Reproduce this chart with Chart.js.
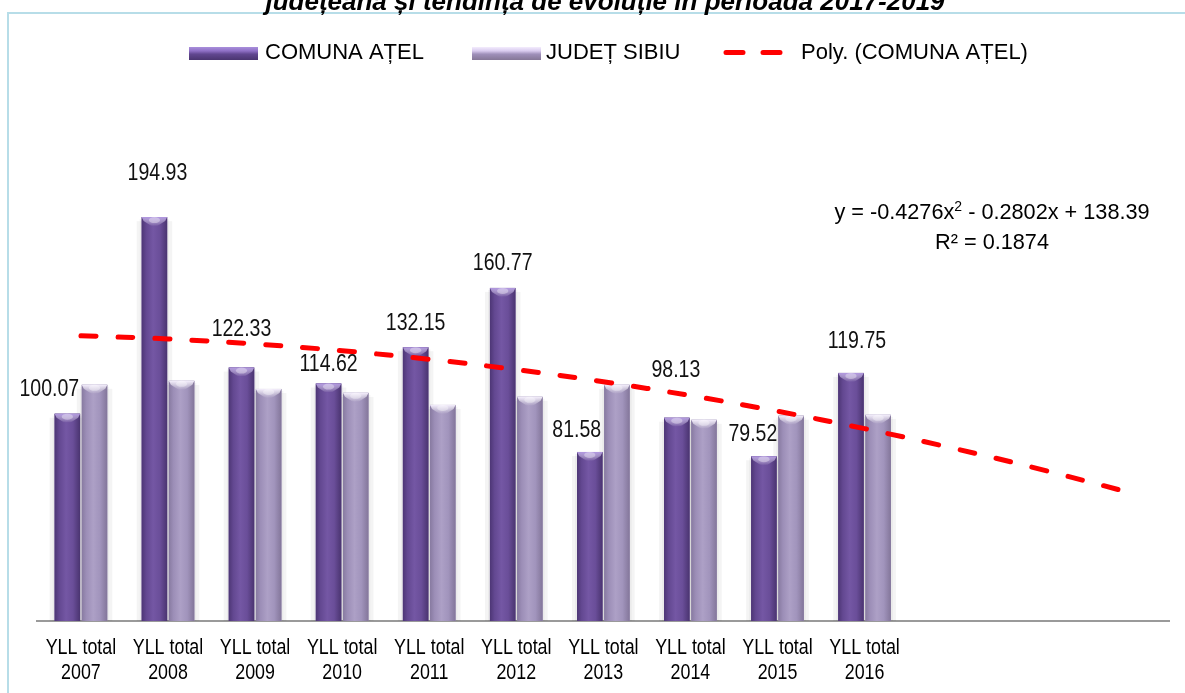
<!DOCTYPE html>
<html>
<head>
<meta charset="utf-8">
<script src="https://cdn.jsdelivr.net/npm/chart.js@4.4.1/dist/chart.umd.min.js"></script>
<style>
  html, body { margin: 0; padding: 0; background: #ffffff; }
  canvas { display: block; }
</style>
</head>
<body>
<canvas id="yll" width="1185" height="693"></canvas>
<script>
// ---- data ----
const categories = [
  ["YLL total", "2007"], ["YLL total", "2008"], ["YLL total", "2009"], ["YLL total", "2010"],
  ["YLL total", "2011"], ["YLL total", "2012"], ["YLL total", "2013"], ["YLL total", "2014"],
  ["YLL total", "2015"], ["YLL total", "2016"], "", "", ""
];
const comunaAtel = [100.07, 194.93, 122.33, 114.62, 132.15, 160.77, 81.58, 98.13, 79.52, 119.75, null, null, null];
const judetSibiu = [114.0, 115.9, 112.0, 110.1, 104.3, 108.2, 114.0, 97.1, 99.1, 99.5, null, null, null];
// polynomial trend (order 2) of COMUNA AȚEL, forecast 3 periods forward
const polyTrend = [137.68, 136.12, 133.70, 130.43, 126.30, 121.32, 115.48, 108.78, 101.23, 92.83, 83.57, 73.45, 62.48];
const seriesNames = ["COMUNA AȚEL", "JUDEȚ SIBIU", "Poly. (COMUNA AȚEL)"];
const titleLine = "județeană și tendința de evoluție în perioada 2017-2019";
const equationParts = ["y = -0.4276x", "2", " - 0.2802x + 138.39"];
const rSquared = "R² = 0.1874";

// ---- look ----
const SANS = '"Liberation Sans", Arial, sans-serif';
const CONDENSE = 0.83;   // horizontal squeeze for the narrow-looking labels
// value label placement relative to the top of each COMUNA AȚEL bar
const labelNudge = [[-18, -24], [3, -44], [0, -38], [0, -19], [0, -24], [0, -24], [-13, -21], [-1, -47], [-11, -22], [6, -31]];

const barLooks = [
  { stops: ['#4d3675', '#634891', '#7457a4', '#6a4e99', '#4a3470'], cap: '#b096e0' },
  { stops: ['#877aa0', '#9c8eb7', '#ada0c6', '#a194bc', '#83769a'], cap: '#f4eefc' }
];

function barGeom(chart, dsIndex) {
  const meta = chart.getDatasetMeta(dsIndex);
  const vals = chart.data.datasets[dsIndex].data;
  return meta.data
    .map((el, i) => (vals[i] == null ? null : el.getProps(['x', 'y', 'width', 'base'], true)))
    .filter(p => p);
}

// soft halo behind every bar
const barHalo = {
  id: 'barHalo',
  beforeDatasetsDraw(chart) {
    const ctx = chart.ctx;
    ctx.save();
    chart.data.datasets.forEach((ds, i) => {
      if (chart.getDatasetMeta(i).type !== 'bar') return;
      barGeom(chart, i).forEach(p => {
        const l = p.x - p.width / 2, h = p.base - p.y;
        ctx.fillStyle = 'rgba(0,0,0,0.045)';
        ctx.fillRect(l - 5, p.y + 4, p.width + 10, h - 4);
        ctx.fillStyle = 'rgba(0,0,0,0.04)';
        ctx.fillRect(l - 2, p.y + 2, p.width + 4, h - 2);
      });
    });
    ctx.restore();
  }
};

// cylinder-like shading drawn over each bar
const barShade = {
  id: 'barShade',
  afterDatasetDraw(chart, args) {
    if (args.meta.type !== 'bar') return;
    const look = barLooks[args.index];
    const ctx = chart.ctx;
    ctx.save();
    barGeom(chart, args.index).forEach(p => {
      const l = p.x - p.width / 2, r = p.x + p.width / 2, h = p.base - p.y;
      const g = ctx.createLinearGradient(l, 0, r, 0);
      [0, 0.18, 0.45, 0.72, 1].forEach((s, k) => g.addColorStop(s, look.stops[k]));
      ctx.fillStyle = g;
      ctx.fillRect(l, p.y, p.width, h);
      // bevelled top
      const cg = ctx.createLinearGradient(0, p.y, 0, p.y + 9);
      cg.addColorStop(0, look.cap);
      cg.addColorStop(1, 'rgba(255,255,255,0)');
      ctx.fillStyle = cg;
      ctx.beginPath();
      ctx.moveTo(l, p.y);
      ctx.lineTo(r, p.y);
      ctx.lineTo(r - 2, p.y + 4);
      ctx.lineTo(p.x + 3, p.y + 9);
      ctx.lineTo(p.x - 3, p.y + 9);
      ctx.lineTo(l + 2, p.y + 4);
      ctx.closePath();
      ctx.fill();
      ctx.fillStyle = 'rgba(255,255,255,0.35)';
      ctx.beginPath();
      ctx.ellipse(p.x, p.y + 3, p.width * 0.22, 3, 0, 0, Math.PI * 2);
      ctx.fill();
    });
    ctx.restore();
  }
};

function narrowText(ctx, text, x, y, size) {
  ctx.save();
  ctx.translate(x, y);
  ctx.scale(CONDENSE, 1);
  ctx.font = size + 'px ' + SANS;
  ctx.fillText(text, 0, 0);
  ctx.restore();
}

// value labels of COMUNA AȚEL and the category labels under the axis
const textLayer = {
  id: 'textLayer',
  afterDatasetsDraw(chart) {
    const ctx = chart.ctx;
    const meta = chart.getDatasetMeta(0);
    ctx.save();
    ctx.fillStyle = '#111111';
    ctx.textAlign = 'center';
    ctx.textBaseline = 'middle';
    meta.data.forEach((el, i) => {
      const v = comunaAtel[i];
      if (v == null) return;
      const p = el.getProps(['x', 'y'], true);
      const n = labelNudge[i] || [0, -24];
      narrowText(ctx, v.toFixed(2), p.x + n[0], p.y + n[1], 23.5);
    });
    const xs = chart.scales.x;
    ctx.fillStyle = '#000000';
    chart.data.labels.forEach((lab, i) => {
      if (!Array.isArray(lab)) return;
      const px = xs.getPixelForTick(i);
      lab.forEach((line, k) => narrowText(ctx, line, px, xs.top + 27 + k * 25, 21.5));
    });
    ctx.restore();
  }
};

// frame, title line, legend and trend equation
const decor = {
  id: 'decor',
  afterDraw(chart) {
    const ctx = chart.ctx;
    ctx.save();
    // frame
    ctx.strokeStyle = '#b7dde8';
    ctx.lineWidth = 2;
    ctx.beginPath();
    ctx.moveTo(8, 693);
    ctx.lineTo(8, 13);
    ctx.lineTo(1185, 13);
    ctx.stroke();

    // title line
    ctx.fillStyle = '#000000';
    ctx.font = 'italic bold 26px ' + SANS;
    ctx.textAlign = 'center';
    ctx.textBaseline = 'alphabetic';
    ctx.fillText(titleLine, 605, 10);

    // legend
    const swatch = (x, y, w, h, stops) => {
      const g = ctx.createLinearGradient(0, y, 0, y + h);
      stops.forEach(s => g.addColorStop(s[0], s[1]));
      ctx.fillStyle = g;
      ctx.fillRect(x, y, w, h);
    };
    swatch(189, 47, 69, 13, [[0, '#a98fdc'], [0.3, '#8f70c6'], [0.55, '#614790'], [1, '#4a3570']]);
    swatch(472, 47, 69, 13, [[0, '#f3ecfd'], [0.3, '#d9cbef'], [0.55, '#9f90ba'], [1, '#857797']]);
    ctx.strokeStyle = '#ff0000';
    ctx.lineWidth = 5;
    ctx.lineCap = 'round';
    ctx.beginPath();
    ctx.moveTo(726, 52.5); ctx.lineTo(743, 52.5);
    ctx.moveTo(763, 52.5); ctx.lineTo(780, 52.5);
    ctx.stroke();
    ctx.font = '22px ' + SANS;
    ctx.fillStyle = '#000000';
    ctx.textAlign = 'left';
    ctx.textBaseline = 'middle';
    ctx.fillText(chart.data.datasets[0].label, 265, 53);
    ctx.fillText(chart.data.datasets[1].label, 546, 53);
    ctx.fillText(chart.data.datasets[2].label, 801, 53);

    // trend equation
    const mainFont = '21.7px ' + SANS;
    const supFont = '14px ' + SANS;
    ctx.font = mainFont;
    const w0 = ctx.measureText(equationParts[0]).width;
    const w2 = ctx.measureText(equationParts[2]).width;
    ctx.font = supFont;
    const w1 = ctx.measureText(equationParts[1]).width;
    const cx = 992;
    let x = cx - (w0 + w1 + w2) / 2;
    ctx.textBaseline = 'alphabetic';
    ctx.font = mainFont;
    ctx.fillText(equationParts[0], x, 219);
    x += w0;
    ctx.font = supFont;
    ctx.fillText(equationParts[1], x, 211);
    x += w1;
    ctx.font = mainFont;
    ctx.fillText(equationParts[2], x, 219);
    ctx.textAlign = 'center';
    ctx.fillText(rSquared, cx, 249);
    ctx.restore();
  }
};

new Chart(document.getElementById('yll'), {
  data: {
    labels: categories,
    datasets: [
      {
        type: 'bar', label: seriesNames[0], data: comunaAtel, order: 1,
        backgroundColor: '#6a4e99', borderWidth: 0,
        categoryPercentage: 0.624, barPercentage: 0.94
      },
      {
        type: 'bar', label: seriesNames[1], data: judetSibiu, order: 1,
        backgroundColor: '#a194bc', borderWidth: 0,
        categoryPercentage: 0.624, barPercentage: 0.94
      },
      {
        type: 'line', label: seriesNames[2], data: polyTrend, order: 0,
        borderColor: '#ff0000', borderWidth: 5, borderDash: [15, 22], borderCapStyle: 'round',
        pointRadius: 0, tension: 0.4, fill: false
      }
    ]
  },
  options: {
    responsive: false,
    animation: false,
    devicePixelRatio: 1,
    layout: { padding: { left: 37.4, right: 15.7, top: 103, bottom: 0 } },
    plugins: { legend: { display: false }, tooltip: { enabled: false } },
    scales: {
      x: {
        grid: { display: false, drawTicks: false },
        border: { display: true, color: '#9a9a9a', width: 2 },
        ticks: { display: false },
        afterFit(scale) { scale.height = 72; }
      },
      y: { display: false, min: 0, max: 250 }
    }
  },
  plugins: [barHalo, barShade, textLayer, decor]
});
</script>
</body>
</html>
